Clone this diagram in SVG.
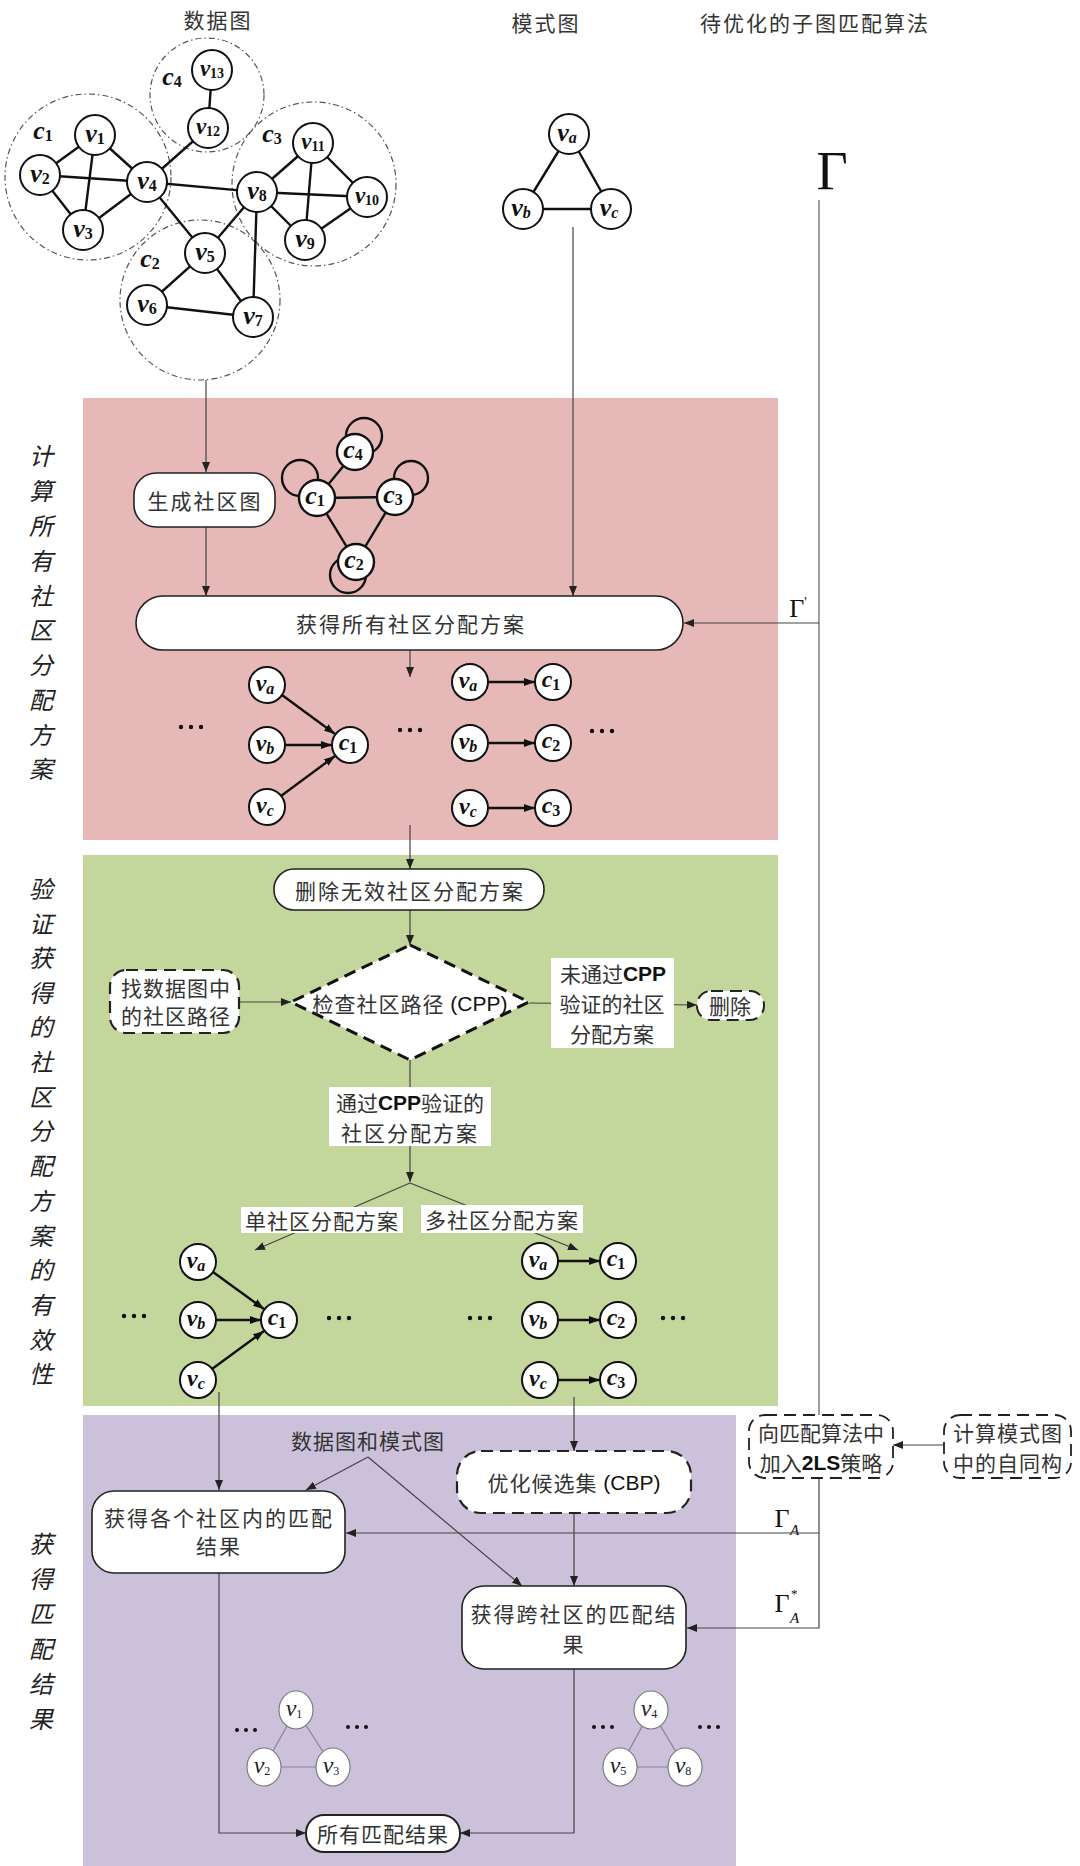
<svg xmlns="http://www.w3.org/2000/svg" width="1080" height="1866" viewBox="0 0 1080 1866">
<style>
.cn{font-family:"Noto Sans CJK SC","Noto Sans",sans-serif;font-size:21px;fill:#333;letter-spacing:2px;text-anchor:middle;dominant-baseline:central}
.en{font-family:"Liberation Sans",Arial,sans-serif;fill:#111;letter-spacing:0}
.enb{font-family:"Liberation Sans",Arial,sans-serif;font-weight:bold;fill:#111;letter-spacing:0}
.vt{font-family:"Noto Sans CJK SC",sans-serif;font-size:24px;font-style:italic;fill:#222;text-anchor:middle;dominant-baseline:central}
.box{fill:#fff;stroke:#222;stroke-width:1.6}
.dbox{fill:#fff;stroke:#222;stroke-width:2.2;stroke-dasharray:12 7}
.lbl{fill:#fff;stroke:none}
.con{fill:none;stroke:#444;stroke-width:1.2}
.gl{fill:none;stroke:#777;stroke-width:1.4}
.nd{fill:#fff;stroke:#111;stroke-width:2}
.ed{stroke:#111;stroke-width:2.4;fill:none}
.comm{fill:none;stroke:#555;stroke-width:1.2;stroke-dasharray:6 3 1.5 3}
.m{font-family:"Liberation Serif",serif;font-style:italic;font-weight:bold;font-size:26px;fill:#111;text-anchor:middle;dominant-baseline:central}
.ms{font-size:16px;font-style:normal}
.msi{font-size:16px}
.m2{font-family:"Liberation Serif",serif;font-style:italic;font-size:24px;fill:#222;text-anchor:middle;dominant-baseline:central}
.m2s{font-size:12px;font-style:normal}
.nd2{fill:#fff;stroke:#777;stroke-width:1.1}
.ed2{stroke:#8a7e9c;stroke-width:1.2}
.g{font-family:"Liberation Serif",serif;fill:#111;text-anchor:middle}
.gs{font-family:"Liberation Serif",serif;fill:#111;font-size:15px}
</style>
<defs>
<marker id="ar" markerUnits="userSpaceOnUse" markerWidth="10" markerHeight="8" refX="10" refY="4" orient="auto"><path d="M0,0 L10,4 L0,8 z" fill="#222"/></marker>
<marker id="ak" markerUnits="userSpaceOnUse" markerWidth="11" markerHeight="8" refX="11" refY="4" orient="auto"><path d="M0,0 L11,4 L0,8 z" fill="#111"/></marker>
</defs>

<!-- regions -->
<rect x="83" y="398" width="695" height="442" fill="#e6b9b8"/>
<rect x="83" y="855" width="695" height="551" fill="#c3d69b"/>
<rect x="83" y="1415" width="653" height="451" fill="#ccc1da"/>

<!-- titles -->
<text class="cn" x="218" y="19">数据图</text>
<text class="cn" x="546" y="22">模式图</text>
<text class="cn" x="815" y="22">待优化的子图匹配算法</text>

<!-- vertical labels -->
<text class="vt"><tspan x="41" y="454">计</tspan><tspan x="41" y="489">算</tspan><tspan x="41" y="524">所</tspan><tspan x="41" y="559">有</tspan><tspan x="41" y="594">社</tspan><tspan x="41" y="628">区</tspan><tspan x="41" y="663">分</tspan><tspan x="41" y="698">配</tspan><tspan x="41" y="733">方</tspan><tspan x="41" y="767">案</tspan></text>
<text class="vt"><tspan x="41" y="887">验</tspan><tspan x="41" y="922">证</tspan><tspan x="41" y="956">获</tspan><tspan x="41" y="991">得</tspan><tspan x="41" y="1025">的</tspan><tspan x="41" y="1060">社</tspan><tspan x="41" y="1095">区</tspan><tspan x="41" y="1129">分</tspan><tspan x="41" y="1164">配</tspan><tspan x="41" y="1199">方</tspan><tspan x="41" y="1234">案</tspan><tspan x="41" y="1268">的</tspan><tspan x="41" y="1303">有</tspan><tspan x="41" y="1338">效</tspan><tspan x="41" y="1372">性</tspan></text>
<text class="vt"><tspan x="41" y="1542">获</tspan><tspan x="41" y="1577">得</tspan><tspan x="41" y="1612">匹</tspan><tspan x="41" y="1647">配</tspan><tspan x="41" y="1682">结</tspan><tspan x="41" y="1717">果</tspan></text>

<!-- data graph -->
<g id="data-graph">
<circle class="comm" cx="88" cy="177" r="83"/>
<circle class="comm" cx="207" cy="95" r="57"/>
<circle class="comm" cx="314" cy="184" r="82"/>
<circle class="comm" cx="200" cy="300" r="80"/>
<g class="ed">
<line x1="95" y1="135" x2="40" y2="175"/><line x1="95" y1="135" x2="83" y2="230"/><line x1="95" y1="135" x2="147" y2="182"/>
<line x1="40" y1="175" x2="147" y2="182"/><line x1="40" y1="175" x2="83" y2="230"/><line x1="83" y1="230" x2="147" y2="182"/>
<line x1="147" y1="182" x2="208" y2="128"/><line x1="208" y1="128" x2="212" y2="70"/>
<line x1="147" y1="182" x2="257" y2="192"/><line x1="147" y1="182" x2="205" y2="253"/>
<line x1="257" y1="192" x2="205" y2="253"/><line x1="257" y1="192" x2="253" y2="317"/>
<line x1="257" y1="192" x2="313" y2="143"/><line x1="257" y1="192" x2="367" y2="197"/><line x1="257" y1="192" x2="305" y2="240"/>
<line x1="313" y1="143" x2="305" y2="240"/><line x1="313" y1="143" x2="367" y2="197"/><line x1="367" y1="197" x2="305" y2="240"/>
<line x1="205" y1="253" x2="147" y2="305"/><line x1="205" y1="253" x2="253" y2="317"/><line x1="147" y1="305" x2="253" y2="317"/>
</g>
<g class="nd">
<circle cx="95" cy="135" r="20"/><circle cx="40" cy="175" r="20"/><circle cx="83" cy="230" r="20"/><circle cx="147" cy="182" r="20"/>
<circle cx="208" cy="128" r="20"/><circle cx="212" cy="70" r="20"/><circle cx="257" cy="192" r="20"/><circle cx="313" cy="143" r="20"/>
<circle cx="367" cy="197" r="20"/><circle cx="305" cy="240" r="20"/><circle cx="205" cy="253" r="20"/><circle cx="147" cy="305" r="20"/><circle cx="253" cy="317" r="20"/>
</g>
<text class="m" x="95" y="133">v<tspan class="ms" dy="5">1</tspan></text>
<text class="m" x="40" y="173">v<tspan class="ms" dy="5">2</tspan></text>
<text class="m" x="83" y="228">v<tspan class="ms" dy="5">3</tspan></text>
<text class="m" x="147" y="180">v<tspan class="ms" dy="5">4</tspan></text>
<text class="m" x="205" y="251">v<tspan class="ms" dy="5">5</tspan></text>
<text class="m" x="147" y="303">v<tspan class="ms" dy="5">6</tspan></text>
<text class="m" x="253" y="315">v<tspan class="ms" dy="5">7</tspan></text>
<text class="m" x="257" y="190">v<tspan class="ms" dy="5">8</tspan></text>
<text class="m" x="305" y="238">v<tspan class="ms" dy="5">9</tspan></text>
<text class="m" x="367" y="195" style="font-size:23px">v<tspan class="ms" dy="5" style="font-size:14px">10</tspan></text>
<text class="m" x="313" y="141" style="font-size:23px">v<tspan class="ms" dy="5" style="font-size:14px">11</tspan></text>
<text class="m" x="208" y="126" style="font-size:23px">v<tspan class="ms" dy="5" style="font-size:14px">12</tspan></text>
<text class="m" x="212" y="68" style="font-size:23px">v<tspan class="ms" dy="5" style="font-size:14px">13</tspan></text>
<text class="m" x="43" y="130">c<tspan class="ms" dy="5">1</tspan></text>
<text class="m" x="150" y="258">c<tspan class="ms" dy="5">2</tspan></text>
<text class="m" x="272" y="133">c<tspan class="ms" dy="5">3</tspan></text>
<text class="m" x="172" y="76">c<tspan class="ms" dy="5">4</tspan></text>
</g>

<!-- pattern graph -->
<g id="pattern-graph">
<g class="ed"><line x1="569" y1="134" x2="523" y2="209"/><line x1="569" y1="134" x2="611" y2="209"/><line x1="523" y1="209" x2="611" y2="209"/></g>
<circle class="nd" cx="569" cy="134" r="20"/><circle class="nd" cx="523" cy="209" r="20"/><circle class="nd" cx="611" cy="209" r="20"/>
<text class="m" x="567" y="132">v<tspan class="msi" dy="5">a</tspan></text>
<text class="m" x="521" y="207">v<tspan class="msi" dy="5">b</tspan></text>
<text class="m" x="609" y="207">v<tspan class="msi" dy="5">c</tspan></text>
</g>

<text class="g" x="832" y="189" style="font-size:54px">Γ</text>

<!-- connectors -->
<g id="connectors">
<line class="con" x1="206" y1="380" x2="206" y2="472" marker-end="url(#ar)"/>
<line class="con" x1="206" y1="527" x2="206" y2="596" marker-end="url(#ar)"/>
<line class="con" x1="573" y1="227" x2="573" y2="596" marker-end="url(#ar)"/>
<line class="gl" x1="819" y1="200" x2="819" y2="1415"/>
<line class="con" x1="819" y1="623" x2="684" y2="623" marker-end="url(#ar)"/>
<polyline class="con" points="819,1478 819,1628 687,1628" marker-end="url(#ar)"/>
<line class="con" x1="819" y1="1533" x2="346" y2="1533" marker-end="url(#ar)"/>
<line class="con" x1="410" y1="650" x2="410" y2="677" marker-end="url(#ar)"/>
<line class="con" x1="410" y1="825" x2="410" y2="869" marker-end="url(#ar)"/>
<line class="con" x1="410" y1="910" x2="410" y2="945" marker-end="url(#ar)"/>
<line class="con" x1="239" y1="1002" x2="291" y2="1002" marker-end="url(#ar)"/>
<line class="con" x1="529" y1="1003" x2="697" y2="1005" marker-end="url(#ar)"/>
<line class="con" x1="410" y1="1060" x2="410" y2="1182" marker-end="url(#ar)"/>
<line class="con" x1="410" y1="1183" x2="255" y2="1250" marker-end="url(#ar)"/>
<line class="con" x1="410" y1="1183" x2="578" y2="1250" marker-end="url(#ar)"/>
<line class="con" x1="219" y1="1392" x2="219" y2="1490" marker-end="url(#ar)"/>
<line class="con" x1="574" y1="1397" x2="574" y2="1451" marker-end="url(#ar)"/>
<line class="con" x1="368" y1="1457" x2="306" y2="1490" marker-end="url(#ar)"/>
<line class="con" x1="368" y1="1457" x2="522" y2="1586" marker-end="url(#ar)"/>
<line class="con" x1="574" y1="1513" x2="574" y2="1586" marker-end="url(#ar)"/>
<polyline class="con" points="219,1573 219,1833 306,1833" marker-end="url(#ar)"/>
<polyline class="con" points="574,1669 574,1833 460,1833" marker-end="url(#ar)"/>
<line class="con" x1="944" y1="1445" x2="893" y2="1445" marker-end="url(#ar)"/>
</g>

<text class="g" x="798" y="617" style="font-size:26px">Γ<tspan dy="-10" style="font-size:14px">'</tspan></text>
<text class="g" x="782" y="1527" style="font-size:26px">Γ</text>
<text class="gs" x="790" y="1535" style="font-style:italic">A</text>
<text class="g" x="782" y="1612" style="font-size:26px">Γ</text>
<text class="gs" x="791" y="1598" style="font-size:13px">*</text>
<text class="gs" x="790" y="1623" style="font-style:italic">A</text>

<!-- pink nodes -->
<g id="n-gen"><rect class="box" x="134" y="473" width="141" height="54" rx="22"/><text class="cn" x="205" y="500">生成社区图</text></g>
<g id="community-graph">
<g class="ed">
<circle cx="364" cy="436" r="18"/><circle cx="300" cy="478" r="18"/><circle cx="411" cy="478" r="17"/><circle cx="348" cy="575" r="18"/>
<line x1="317" y1="498" x2="355" y2="452"/><line x1="317" y1="498" x2="395" y2="497"/><line x1="317" y1="498" x2="356" y2="562"/><line x1="395" y1="497" x2="356" y2="562"/>
</g>
<circle class="nd" cx="355" cy="452" r="18" style="stroke-width:2.4"/><circle class="nd" cx="317" cy="498" r="18" style="stroke-width:2.4"/><circle class="nd" cx="395" cy="497" r="18" style="stroke-width:2.4"/><circle class="nd" cx="356" cy="562" r="18" style="stroke-width:2.4"/>
<text class="m" x="353" y="449">c<tspan class="ms" dy="5">4</tspan></text>
<text class="m" x="315" y="495">c<tspan class="ms" dy="5">1</tspan></text>
<text class="m" x="393" y="494">c<tspan class="ms" dy="5">3</tspan></text>
<text class="m" x="354" y="559">c<tspan class="ms" dy="5">2</tspan></text>
</g>
<g id="n-all"><rect class="box" x="136" y="596" width="547" height="54" rx="27"/><text class="cn" x="411" y="623">获得所有社区分配方案</text></g>

<g id="assign-pink-left">
<g class="ed">
<line x1="282" y1="695" x2="335" y2="734" marker-end="url(#ak)"/>
<line x1="285" y1="745" x2="332" y2="745" marker-end="url(#ak)"/>
<line x1="281" y1="796" x2="335" y2="756" marker-end="url(#ak)"/>
</g>
<circle class="nd" cx="267" cy="685" r="18"/><circle class="nd" cx="267" cy="745" r="18"/><circle class="nd" cx="267" cy="807" r="18"/><circle class="nd" cx="350" cy="745" r="18"/>
<text class="m" x="265" y="683" style="font-size:24px">v<tspan class="msi" dy="5">a</tspan></text>
<text class="m" x="265" y="743" style="font-size:24px">v<tspan class="msi" dy="5">b</tspan></text>
<text class="m" x="265" y="805" style="font-size:24px">v<tspan class="msi" dy="5">c</tspan></text>
<text class="m" x="348" y="742" style="font-size:24px">c<tspan class="ms" dy="5">1</tspan></text>
</g>
<g id="assign-pink-right">
<g class="ed">
<line x1="488" y1="682" x2="535" y2="682" marker-end="url(#ak)"/>
<line x1="488" y1="743" x2="535" y2="743" marker-end="url(#ak)"/>
<line x1="488" y1="808" x2="535" y2="808" marker-end="url(#ak)"/>
</g>
<circle class="nd" cx="470" cy="682" r="18"/><circle class="nd" cx="553" cy="682" r="18"/>
<circle class="nd" cx="470" cy="743" r="18"/><circle class="nd" cx="553" cy="743" r="18"/>
<circle class="nd" cx="470" cy="808" r="18"/><circle class="nd" cx="553" cy="808" r="18"/>
<text class="m" x="468" y="680" style="font-size:24px">v<tspan class="msi" dy="5">a</tspan></text>
<text class="m" x="468" y="741" style="font-size:24px">v<tspan class="msi" dy="5">b</tspan></text>
<text class="m" x="468" y="806" style="font-size:24px">v<tspan class="msi" dy="5">c</tspan></text>
<text class="m" x="551" y="679" style="font-size:24px">c<tspan class="ms" dy="5">1</tspan></text>
<text class="m" x="551" y="740" style="font-size:24px">c<tspan class="ms" dy="5">2</tspan></text>
<text class="m" x="551" y="805" style="font-size:24px">c<tspan class="ms" dy="5">3</tspan></text>
</g>
<g id="dots-pink" fill="#111">
<circle cx="181" cy="727" r="2.2"/><circle cx="191" cy="727" r="2.2"/><circle cx="201" cy="727" r="2.2"/>
<circle cx="400" cy="730" r="2.2"/><circle cx="410" cy="730" r="2.2"/><circle cx="420" cy="730" r="2.2"/>
<circle cx="592" cy="731" r="2.2"/><circle cx="602" cy="731" r="2.2"/><circle cx="612" cy="731" r="2.2"/>
</g>

<!-- green nodes -->
<g id="n-del-invalid"><rect class="box" x="274" y="869" width="270" height="41" rx="20"/><text class="cn" x="410" y="890">删除无效社区分配方案</text></g>
<g id="n-check"><polygon points="410,945 529,1002 410,1060 291,1002" fill="#fff" stroke="#111" stroke-width="3" stroke-dasharray="12 7"/><text class="cn" x="410" y="1003" style="letter-spacing:1px">检查社区路径<tspan class="en"> (CPP)</tspan></text></g>
<g id="n-find"><rect class="dbox" x="110" y="970" width="129" height="63" rx="16"/><text class="cn" x="176" y="987" style="letter-spacing:1px">找数据图中</text><text class="cn" x="176" y="1015" style="letter-spacing:1px">的社区路径</text></g>
<g id="lbl-fail"><rect class="lbl" x="551" y="958" width="123" height="90"/><text class="cn" x="613" y="973" style="letter-spacing:0">未通过<tspan class="enb">CPP</tspan></text><text class="cn" x="612" y="1003" style="letter-spacing:0">验证的社区</text><text class="cn" x="612" y="1033" style="letter-spacing:0">分配方案</text></g>
<g id="n-delete"><rect class="dbox" x="697" y="991" width="67" height="29" rx="14" style="stroke-width:2"/><text class="cn" x="730" y="1005" style="letter-spacing:0">删除</text></g>
<g id="lbl-pass"><rect class="lbl" x="329" y="1087" width="162" height="59"/><text class="cn" x="410" y="1102" style="letter-spacing:0">通过<tspan class="enb">CPP</tspan>验证的</text><text class="cn" x="410" y="1132">社区分配方案</text></g>
<g id="lbl-single"><rect class="lbl" x="241" y="1207" width="162" height="26"/><text class="cn" x="322" y="1220" style="letter-spacing:1px">单社区分配方案</text></g>
<g id="lbl-multi"><rect class="lbl" x="421" y="1205" width="162" height="28"/><text class="cn" x="502" y="1219" style="letter-spacing:1px">多社区分配方案</text></g>

<g id="assign-green-single">
<g class="ed">
<line x1="213" y1="1272" x2="264" y2="1309" marker-end="url(#ak)"/>
<line x1="216" y1="1320" x2="261" y2="1320" marker-end="url(#ak)"/>
<line x1="212" y1="1369" x2="264" y2="1331" marker-end="url(#ak)"/>
</g>
<circle class="nd" cx="198" cy="1262" r="18"/><circle class="nd" cx="198" cy="1320" r="18"/><circle class="nd" cx="198" cy="1380" r="18"/><circle class="nd" cx="279" cy="1320" r="18"/>
<text class="m" x="196" y="1260" style="font-size:24px">v<tspan class="msi" dy="5">a</tspan></text>
<text class="m" x="196" y="1318" style="font-size:24px">v<tspan class="msi" dy="5">b</tspan></text>
<text class="m" x="196" y="1378" style="font-size:24px">v<tspan class="msi" dy="5">c</tspan></text>
<text class="m" x="277" y="1317" style="font-size:24px">c<tspan class="ms" dy="5">1</tspan></text>
</g>
<g id="assign-green-multi">
<g class="ed">
<line x1="558" y1="1261" x2="600" y2="1261" marker-end="url(#ak)"/>
<line x1="558" y1="1320" x2="600" y2="1320" marker-end="url(#ak)"/>
<line x1="558" y1="1380" x2="600" y2="1380" marker-end="url(#ak)"/>
</g>
<circle class="nd" cx="540" cy="1261" r="18"/><circle class="nd" cx="618" cy="1261" r="18"/>
<circle class="nd" cx="540" cy="1320" r="18"/><circle class="nd" cx="618" cy="1320" r="18"/>
<circle class="nd" cx="540" cy="1380" r="18"/><circle class="nd" cx="618" cy="1380" r="18"/>
<text class="m" x="538" y="1259" style="font-size:24px">v<tspan class="msi" dy="5">a</tspan></text>
<text class="m" x="538" y="1318" style="font-size:24px">v<tspan class="msi" dy="5">b</tspan></text>
<text class="m" x="538" y="1378" style="font-size:24px">v<tspan class="msi" dy="5">c</tspan></text>
<text class="m" x="616" y="1258" style="font-size:24px">c<tspan class="ms" dy="5">1</tspan></text>
<text class="m" x="616" y="1317" style="font-size:24px">c<tspan class="ms" dy="5">2</tspan></text>
<text class="m" x="616" y="1377" style="font-size:24px">c<tspan class="ms" dy="5">3</tspan></text>
</g>
<g id="dots-green" fill="#111">
<circle cx="124" cy="1316" r="2.2"/><circle cx="134" cy="1316" r="2.2"/><circle cx="144" cy="1316" r="2.2"/>
<circle cx="329" cy="1318" r="2.2"/><circle cx="339" cy="1318" r="2.2"/><circle cx="349" cy="1318" r="2.2"/>
<circle cx="470" cy="1318" r="2.2"/><circle cx="480" cy="1318" r="2.2"/><circle cx="490" cy="1318" r="2.2"/>
<circle cx="663" cy="1318" r="2.2"/><circle cx="673" cy="1318" r="2.2"/><circle cx="683" cy="1318" r="2.2"/>
</g>

<!-- purple nodes -->
<text class="cn" x="368" y="1440" style="letter-spacing:1px">数据图和模式图</text>
<g id="n-cbp"><rect class="dbox" x="457" y="1451" width="234" height="62" rx="24"/><text class="cn" x="574" y="1482" style="letter-spacing:1px">优化候选集<tspan class="en"> (CBP)</tspan></text></g>
<g id="n-within"><rect class="box" x="92" y="1491" width="253" height="82" rx="22"/><text class="cn" x="219" y="1517">获得各个社区内的匹配</text><text class="cn" x="219" y="1545">结果</text></g>
<g id="n-cross"><rect class="box" x="462" y="1586" width="224" height="83" rx="22"/><text class="cn" x="574" y="1613">获得跨社区的匹配结</text><text class="cn" x="574" y="1643">果</text></g>
<g id="n-all-results"><rect class="box" x="306" y="1815" width="154" height="37" rx="18" style="stroke-width:2"/><text class="cn" x="383" y="1833" style="letter-spacing:1px">所有匹配结果</text></g>

<g id="result-left">
<line class="ed2" x1="296" y1="1710" x2="264" y2="1767"/><line class="ed2" x1="296" y1="1710" x2="333" y2="1767"/><line class="ed2" x1="264" y1="1767" x2="333" y2="1767"/>
<ellipse class="nd2" cx="296" cy="1710" rx="17" ry="19"/><ellipse class="nd2" cx="264" cy="1767" rx="17" ry="19"/><ellipse class="nd2" cx="333" cy="1767" rx="17" ry="19"/>
<text class="m2" x="294" y="1708">v<tspan class="m2s" dy="6">1</tspan></text>
<text class="m2" x="262" y="1765">v<tspan class="m2s" dy="6">2</tspan></text>
<text class="m2" x="331" y="1765">v<tspan class="m2s" dy="6">3</tspan></text>
</g>
<g id="result-right">
<line class="ed2" x1="651" y1="1710" x2="620" y2="1767"/><line class="ed2" x1="651" y1="1710" x2="685" y2="1767"/><line class="ed2" x1="620" y1="1767" x2="685" y2="1767"/>
<ellipse class="nd2" cx="651" cy="1710" rx="17" ry="19"/><ellipse class="nd2" cx="620" cy="1767" rx="17" ry="19"/><ellipse class="nd2" cx="685" cy="1767" rx="17" ry="19"/>
<text class="m2" x="649" y="1708">v<tspan class="m2s" dy="6">4</tspan></text>
<text class="m2" x="618" y="1765">v<tspan class="m2s" dy="6">5</tspan></text>
<text class="m2" x="683" y="1765">v<tspan class="m2s" dy="6">8</tspan></text>
</g>
<g id="dots-purple" fill="#111">
<circle cx="237" cy="1730" r="2"/><circle cx="246" cy="1730" r="2"/><circle cx="255" cy="1730" r="2"/>
<circle cx="348" cy="1727" r="2"/><circle cx="357" cy="1727" r="2"/><circle cx="366" cy="1727" r="2"/>
<circle cx="594" cy="1727" r="2"/><circle cx="603" cy="1727" r="2"/><circle cx="612" cy="1727" r="2"/>
<circle cx="700" cy="1727" r="2"/><circle cx="709" cy="1727" r="2"/><circle cx="718" cy="1727" r="2"/>
</g>

<!-- right side boxes -->
<g id="n-2ls"><rect class="dbox" x="749" y="1415" width="144" height="63" rx="16" style="stroke-width:1.8"/><text class="cn" x="821" y="1432" style="letter-spacing:0">向匹配算法中</text><text class="cn" x="821" y="1462" style="letter-spacing:0">加入<tspan class="enb">2LS</tspan>策略</text></g>
<g id="n-auto"><rect class="dbox" x="944" y="1415" width="127" height="63" rx="16" style="stroke-width:1.8"/><text class="cn" x="1008" y="1432" style="letter-spacing:1px">计算模式图</text><text class="cn" x="1008" y="1462" style="letter-spacing:1px">中的自同构</text></g>
</svg>
